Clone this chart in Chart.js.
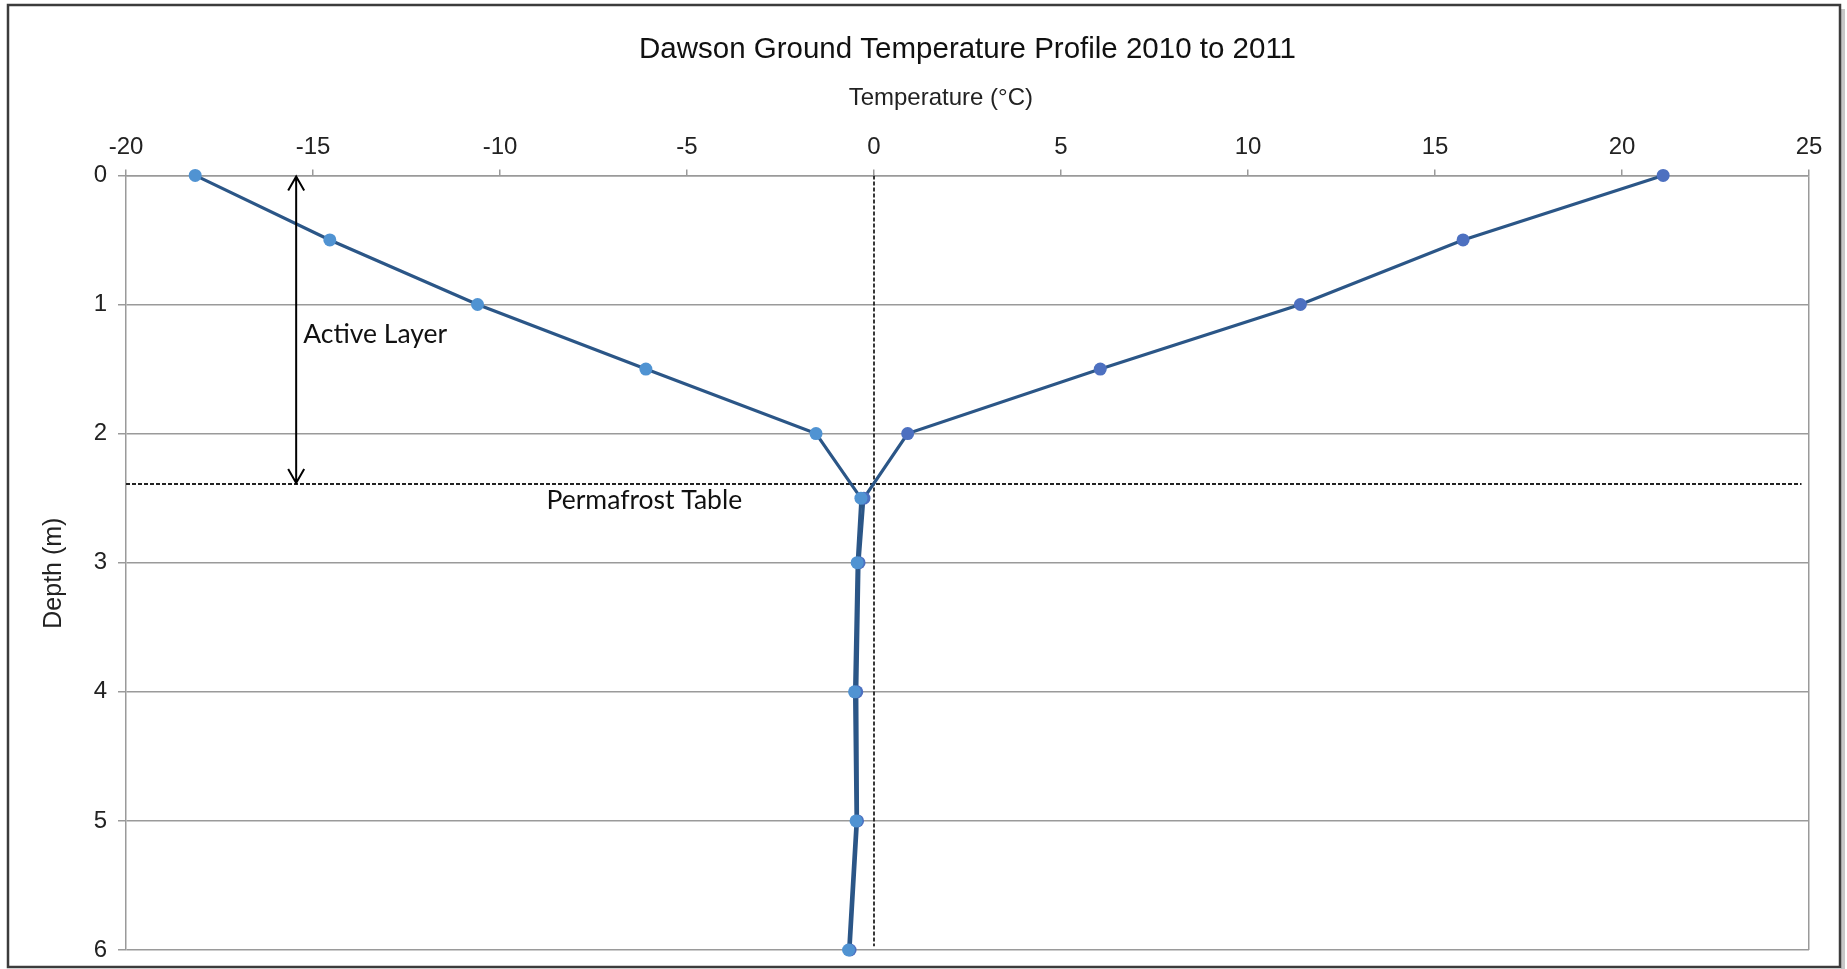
<!DOCTYPE html>
<html>
<head>
<meta charset="utf-8">
<script src="https://cdn.jsdelivr.net/npm/chart.js@4.4.1/dist/chart.umd.min.js"></script>
<style>
  html, body { margin: 0; padding: 0; background: #fff; }
  #wrap { width: 1847px; height: 969px; position: relative; }
</style>
</head>
<body>
<div id="wrap"><canvas id="chart"></canvas></div>
<script>
// Dawson ground temperature profile, 2010 to 2011
const depths = [0, 0.5, 1, 1.5, 2, 2.5, 3, 4, 5, 6];
const minTemps = [-18.15, -14.55, -10.6, -6.1, -1.55, -0.35, -0.45, -0.52, -0.48, -0.68];
const maxTemps = [21.1, 15.75, 11.4, 6.05, 0.9, -0.27, -0.4, -0.46, -0.44, -0.64];
const tempTicks = [-20, -15, -10, -5, 0, 5, 10, 15, 20, 25];
const depthTicks = [0, 1, 2, 3, 4, 5, 6];

// reference lines and notes
const permafrostDepth = 2.39;
const zeroLine = [{ x: 0, y: 0 }, { x: 0, y: 5.97 }];
const permafrostLine = [{ x: -20, y: permafrostDepth }, { x: 24.8, y: permafrostDepth }];
const activeLayerX = -15.45;

const FONT = 'Liberation Sans';
const GRID = '#9a9a9a';
const NBSP = '\u00a0';

const toPoints = temps => depths.map((d, i) => ({ x: temps[i], y: d }));

// white page plus the grey frame round the chart
const framePlugin = {
  id: 'frame',
  beforeDraw(chart) {
    const ctx = chart.ctx;
    ctx.save();
    ctx.fillStyle = '#fff';
    ctx.fillRect(0, 0, chart.width, chart.height);
    ctx.fillStyle = 'rgba(0,0,0,0.22)';
    ctx.fillRect(1841, 9, 4, 960);
    ctx.strokeStyle = '#3c3c3c';
    ctx.lineWidth = 2.5;
    ctx.strokeRect(8, 5, 1832, 962);
    ctx.restore();
  }
};

// active layer arrow and the two text notes
const notesPlugin = {
  id: 'notes',
  afterDatasetsDraw(chart) {
    const { ctx, scales: { x, y } } = chart;
    const ax = x.getPixelForValue(activeLayerX);
    const top = y.getPixelForValue(0) + 1;
    const bot = y.getPixelForValue(permafrostDepth) - 1;
    ctx.save();
    ctx.strokeStyle = '#000';
    ctx.lineWidth = 2;
    ctx.beginPath();
    ctx.moveTo(ax, top);
    ctx.lineTo(ax, bot);
    ctx.moveTo(ax - 8, top + 14);
    ctx.lineTo(ax, top);
    ctx.lineTo(ax + 8, top + 14);
    ctx.moveTo(ax - 8, bot - 14);
    ctx.lineTo(ax, bot);
    ctx.lineTo(ax + 8, bot - 14);
    ctx.stroke();

    ctx.fillStyle = '#111';
    ctx.font = '26.5px Lato';
    ctx.textBaseline = 'middle';
    ctx.textAlign = 'left';
    ctx.fillText('Active Layer', ax + 7, y.getPixelForValue(1.23));
    ctx.textAlign = 'center';
    ctx.fillText('Permafrost Table', x.getPixelForValue(-6.14), y.getPixelForValue(2.52));
    ctx.restore();
  }
};

const ctx = document.getElementById('chart').getContext('2d');
new Chart(ctx, {
  type: 'scatter',
  data: {
    datasets: [
      {
        label: 'Minimum',
        data: toPoints(minTemps),
        showLine: true,
        clip: false,
        borderColor: '#2b5687',
        borderWidth: 3.2,
        pointRadius: 6.5,
        pointBorderWidth: 0,
        pointBackgroundColor: '#5093d2',
        order: 1
      },
      {
        label: 'Maximum',
        data: toPoints(maxTemps),
        showLine: true,
        clip: false,
        borderColor: '#2b5687',
        borderWidth: 3.2,
        pointRadius: 6.5,
        pointBorderWidth: 0,
        pointBackgroundColor: '#4d70c0',
        order: 1
      },
      {
        label: 'zero',
        data: zeroLine,
        showLine: true,
        borderColor: '#222',
        borderWidth: 1.8,
        borderDash: [4, 2],
        pointRadius: 0,
        order: 3
      },
      {
        label: 'permafrost',
        data: permafrostLine,
        showLine: true,
        borderColor: '#222',
        borderWidth: 2,
        borderDash: [4, 2],
        pointRadius: 0,
        order: 3
      }
    ]
  },
  options: {
    responsive: true,
    maintainAspectRatio: false,
    animation: false,
    layout: { autoPadding: false, padding: { left: 30, right: 38, top: 0, bottom: 19 } },
    plugins: {
      legend: { display: false },
      tooltip: { enabled: false },
      title: {
        display: true,
        text: 'Dawson Ground Temperature Profile 2010 to 2011',
        fullSize: false,
        color: '#111',
        font: { family: FONT, size: 29.5, weight: 'normal' },
        padding: { top: 32, bottom: 0 }
      }
    },
    scales: {
      x: {
        type: 'linear',
        position: 'top',
        min: -20,
        max: 25,
        afterBuildTicks: s => { s.ticks = tempTicks.map(v => ({ value: v })); },
        afterFit: s => {
          s.height = 108;
          s.paddingLeft = 0;
          s.paddingRight = 0;
        },
        grid: {
          color: c => (c.tick && c.tick.value === 25 ? GRID : 'rgba(0,0,0,0)'),
          tickColor: GRID,
          tickLength: 6,
          lineWidth: 1.5
        },
        border: { color: GRID, width: 1.5 },
        ticks: { color: '#222', padding: 8, font: { family: FONT, size: 24 } },
        title: {
          display: true,
          // trailing spaces nudge the centred title left, as in the original
          text: 'Temperature (°C)' + NBSP.repeat(8),
          color: '#222',
          font: { family: FONT, size: 24 },
          padding: { top: 17, bottom: 0 }
        }
      },
      y: {
        type: 'linear',
        reverse: true,
        min: 0,
        max: 6,
        afterBuildTicks: s => { s.ticks = depthTicks.map(v => ({ value: v })); },
        afterFit: s => {
          s.width = 96;
          s.paddingTop = 0;
          s.paddingBottom = 0;
        },
        grid: { color: GRID, tickColor: GRID, tickLength: 8, lineWidth: 1.5 },
        border: { color: GRID, width: 1.5 },
        ticks: { color: '#222', padding: 11, font: { family: FONT, size: 24 } },
        title: {
          display: true,
          text: 'Depth (m)' + NBSP.repeat(3),
          color: '#222',
          font: { family: FONT, size: 25 },
          padding: { top: 9, bottom: 0 }
        }
      }
    }
  },
  plugins: [framePlugin, notesPlugin]
});
</script>
</body>
</html>
